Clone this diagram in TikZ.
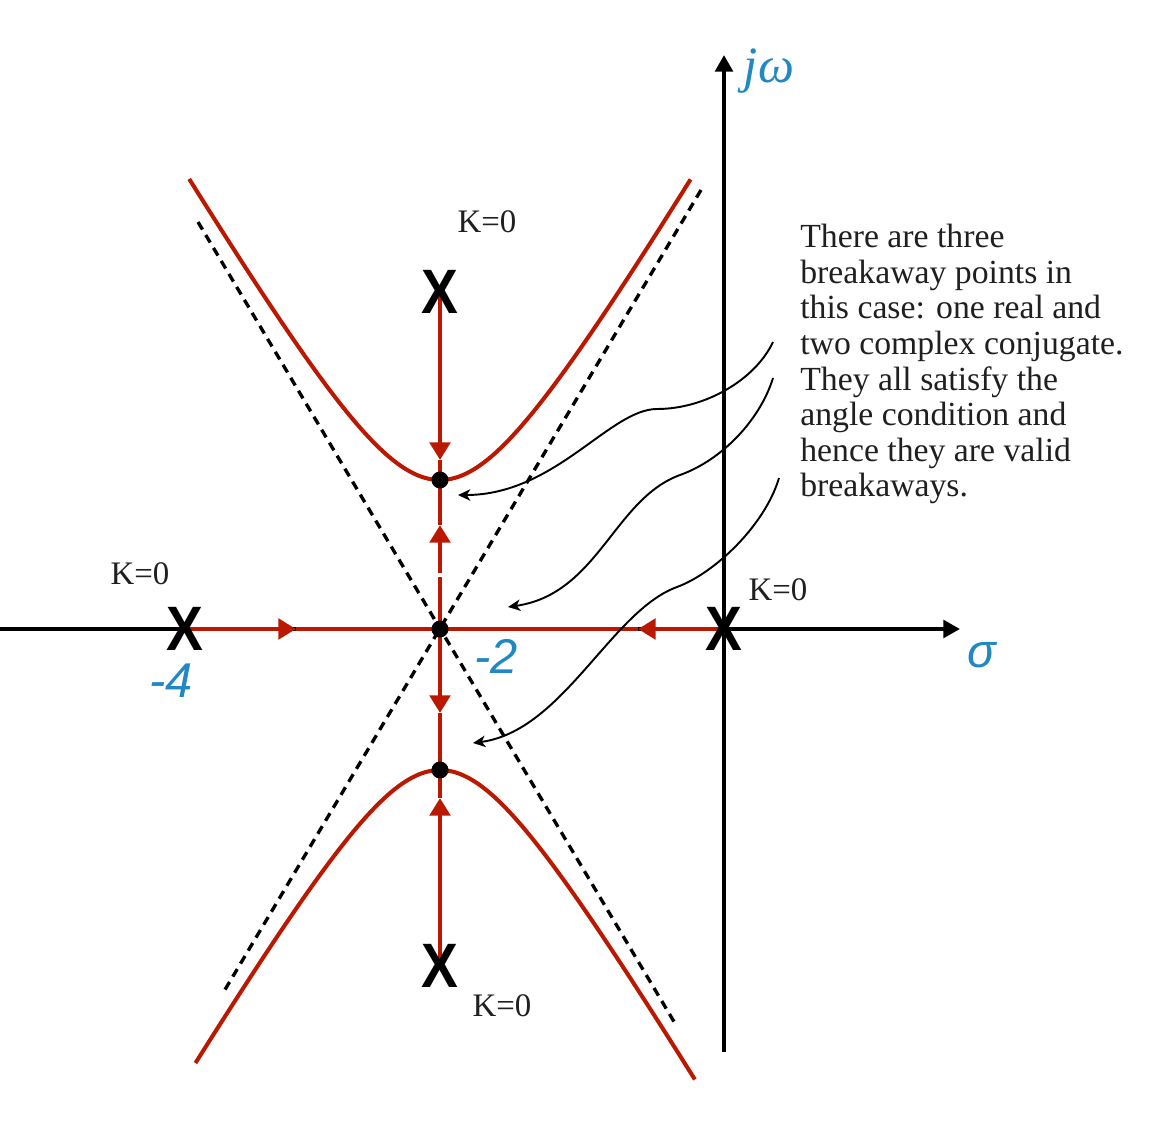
\documentclass[tikz,border=0pt]{standalone}
\usepackage{fontspec}
\setmainfont{Liberation Serif}
\newfontfamily\sansf{Liberation Sans}
\usetikzlibrary{arrows.meta}
\definecolor{locus}{RGB}{186,24,0}
\definecolor{axblue}{RGB}{33,136,196}
\pgfdeclarelayer{bg}
\pgfsetlayers{bg,main}
\begin{document}
\begin{tikzpicture}[x=0.02cm,y=-0.02cm,
  axis/.style={line width=2.3pt,-{Triangle[length=9.5pt,width=10pt]}},
  redline/.style={line width=2.5pt,draw=locus},
  redarr/.style={redline,-{Triangle[length=10pt,width=11.5pt]},color=locus},
  hyper/.style={line width=2.3pt,draw=locus},
  asym/.style={line width=1.9pt,dash pattern=on 5pt off 3.6pt},
  note/.style={line width=1.1pt,-{Stealth[length=7pt,width=6.5pt,inset=2pt]}},
  pole/.style={font=\sansf\bfseries\fontsize{35.7}{36}\selectfont,inner sep=0pt},
  bp/.style={circle,fill=black,inner sep=0pt,minimum size=0.34cm},
  klabel/.style={font=\fontsize{18.7}{20}\selectfont,text=black!88,inner sep=0pt},
  numlabel/.style={font=\sansf\itshape\fontsize{27.8}{28}\selectfont,text=axblue,inner sep=0pt},
  notetext/.style={font=\fontsize{19.2}{20.25}\selectfont,text=black!88,align=left,inner sep=0pt}
]
\useasboundingbox (0,0) rectangle (1172,1132);

% poles and breakaway points
\node[pole] (pU) at (440,292) {\scalebox{0.88}[1]{X}};
\node[pole] (pL) at (440,966) {\scalebox{0.88}[1]{X}};
\node[pole] (pA) at (185,629) {\scalebox{0.88}[1]{X}};
\node[pole] (pB) at (724,629) {\scalebox{0.88}[1]{X}};
\node[bp] (b0) at (440,629) {};
\node[bp] (bU) at (440,480) {};
\node[bp] (bL) at (440,770) {};

% helper coordinates
\coordinate (xs) at (0,629);
\coordinate (xe) at (960,629);
\coordinate (ys) at (724,1052);
\coordinate (ye) at (724,55);
\coordinate (aU) at (440,460);
\coordinate (g1) at (440,577);
\coordinate (g2) at (440,573);
\coordinate (aM) at (440,525);
\coordinate (aD) at (440,713);
\coordinate (aL) at (440,798);
\coordinate (aH1) at (296,629);
\coordinate (aH2) at (638,629);
\coordinate (d1a) at (198,222);
\coordinate (d1b) at (676,1025);
\coordinate (d2a) at (701,190);
\coordinate (d2b) at (223,993);

\begin{pgfonlayer}{bg}
  \draw[asym] (d1a) -- (d1b);
  \draw[asym] (d2a) -- (d2b);
  \draw[axis] (xs) -- (xe);
  \draw[axis] (ys) -- (ye);
  \draw[redarr] (pU.center) -- (aU);
  \draw[redline] (aU) -- (bU.center);
  \draw[redline] (b0.center) -- (g1);
  \draw[redarr] (g2) -- (aM);
  \draw[redline] (aM) -- (bU.center);
  \draw[redarr] (b0.center) -- (aD);
  \draw[redline] (aD) -- (bL.center);
  \draw[redarr] (pL.center) -- (aL);
  \draw[redline] (aL) -- (bL.center);
  \draw[redarr] (pA.center) -- (aH1);
  \draw[redline] (aH1) -- (b0.center);
  \draw[redarr] (pB.center) -- (aH2);
  \draw[redline] (aH2) -- (b0.center);
  \draw[hyper] plot[domain=-1.77:1.77,samples=90,smooth] ({440+88*sinh(\x)},{629-149*cosh(\x)});
  \draw[hyper] plot[domain=-1.79:1.83,samples=90,smooth] ({440+84*sinh(\x)},{629+141*cosh(\x)});
\end{pgfonlayer}

% annotation arrows
\coordinate (n1s) at (773,342);
\coordinate (n1m) at (657,409);
\coordinate (n1e) at (458,495);
\coordinate (n2s) at (773,378);
\coordinate (n2m) at (680,475);
\coordinate (n2e) at (508,607);
\coordinate (n3s) at (779,478);
\coordinate (n3m) at (677,587);
\coordinate (n3e) at (473,743);
\draw[note] (n1s) .. controls (755,380) and (705,409) .. (n1m) .. controls (610,409) and (555,495) .. (n1e);
\draw[note] (n2s) .. controls (760,420) and (722,460) .. (n2m) .. controls (614,499) and (598,594) .. (n2e);
\draw[note] (n3s) .. controls (765,525) and (715,573) .. (n3m) .. controls (611,611) and (563,731) .. (n3e);

% labels
\node[klabel] (k1) at (487,222) {K=0};
\node[klabel] (k2) at (140,574) {K=0};
\node[klabel] (k3) at (778,590) {K=0};
\node[klabel] (k4) at (502,1006) {K=0};
\node[numlabel] (m4) at (171,681) {-4};
\node[numlabel] (m2) at (496,656) {-2};
\node[font=\itshape\fontsize{29}{29}\selectfont,text=axblue,inner sep=0pt,anchor=base] (jw) at (769,83) {jω};
\node[font=\sansf\itshape\fontsize{27}{27}\selectfont,text=axblue,inner sep=0pt,anchor=base] (sg) at (982,667) {σ};
\node[notetext,anchor=north west] (txt) at (800,224) {There are three\\breakaway points in\\this case: one real and\\two complex conjugate.\\They all satisfy the\\angle condition and\\hence they are valid\\breakaways.};
\end{tikzpicture}
\end{document}
